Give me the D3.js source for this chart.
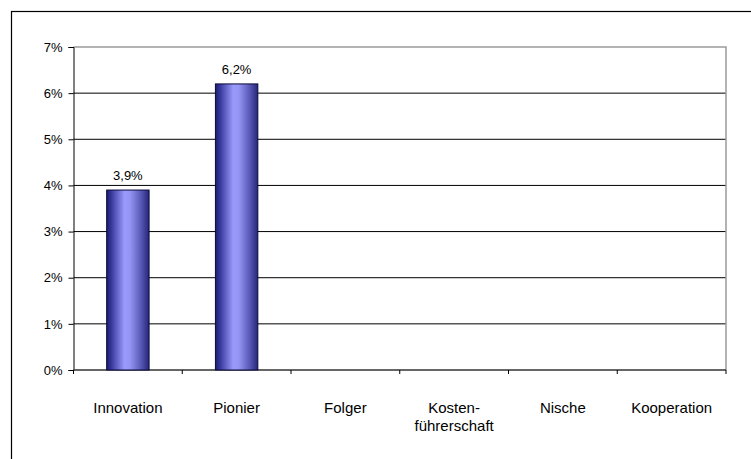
<!DOCTYPE html>
<html>
<head>
<meta charset="utf-8">
<script src="https://cdn.jsdelivr.net/npm/d3@7"></script>
<style>
  html, body { margin: 0; padding: 0; background: #fff; }
  svg { display: block; font-family: "Liberation Sans", Arial, sans-serif; }
</style>
</head>
<body>
<svg id="chart" width="751" height="459"></svg>
<script>
// Strategy categories (label lines) and their values in percent
const categories = ["Innovation", "Pionier", "Folger", "Kosten-|führerschaft", "Nische", "Kooperation"];
const values = [3.9, 6.2, null, null, null, null];
const yTicks = [0, 1, 2, 3, 4, 5, 6, 7];

const svg = d3.select("#chart");
const W = 751, H = 459;
const plot = { left: 73.5, right: 726, top: 47, bottom: 370 };

// Outer frame (extends beyond the right and bottom edge)
svg.append("rect")
  .attr("x", 11.5).attr("y", 11.5)
  .attr("width", W + 10).attr("height", H + 10)
  .attr("fill", "none").attr("stroke", "#000").attr("stroke-width", 1.2);

const x = d3.scaleBand()
  .domain(categories)
  .range([plot.left, plot.right])
  .paddingInner(0).paddingOuter(0);

const y = d3.scaleLinear().domain([0, 7]).range([plot.bottom, plot.top]);

// Bar gradient: dark edges, light violet-blue highlight left of centre
const defs = svg.append("defs");
const grad = defs.append("linearGradient")
  .attr("id", "barGrad").attr("x1", "0%").attr("x2", "100%").attr("y1", "0%").attr("y2", "0%");
[
  [0, "#1c1c70"], [0.12, "#3a3aa0"], [0.42, "#9a9afc"], [0.55, "#9595f5"],
  [0.8, "#5a5ab8"], [1, "#26267a"]
].forEach(([o, c]) => grad.append("stop").attr("offset", o).attr("stop-color", c));

// Horizontal gridlines
svg.append("g")
  .selectAll("line")
  .data(yTicks.filter(t => t > 0 && t < 7))
  .join("line")
  .attr("x1", plot.left).attr("x2", plot.right)
  .attr("y1", d => y(d)).attr("y2", d => y(d))
  .attr("stroke", "#000").attr("stroke-width", 1);

// Plot area border (top and right)
svg.append("path")
  .attr("d", `M${plot.left},${y(7)}H${plot.right}V${plot.bottom}`)
  .attr("fill", "none").attr("stroke", "#9a9a9a").attr("stroke-width", 1.5);

// Y axis
const yAxis = d3.axisLeft(y).tickValues(yTicks).tickFormat(d => d + "%").tickSize(5).tickPadding(6);
const gy = svg.append("g").attr("transform", `translate(${plot.left},0)`).call(yAxis);
gy.select(".domain").attr("stroke", "#000");
gy.selectAll(".tick line").attr("stroke", "#000");
gy.selectAll(".tick text").attr("font-size", 13).attr("fill", "#000")
  .attr("font-family", "Liberation Sans, Arial, sans-serif");

// X axis with ticks on band boundaries
const gx = svg.append("g").attr("transform", `translate(0,${plot.bottom})`);
gx.append("line").attr("x1", plot.left).attr("x2", plot.right)
  .attr("stroke", "#333").attr("stroke-width", 1.5);
const boundaries = categories.map(c => x(c)).concat([x(categories[categories.length - 1]) + x.bandwidth()]);
gx.selectAll("line.tk").data(boundaries).join("line").attr("class", "tk")
  .attr("x1", d => d).attr("x2", d => d).attr("y1", 0).attr("y2", 4)
  .attr("stroke", "#000");

// Category labels
const labels = svg.append("g").selectAll("text").data(categories).join("text")
  .attr("x", d => x(d) + x.bandwidth() / 2)
  .attr("y", 413)
  .attr("text-anchor", "middle")
  .attr("font-size", 15).attr("fill", "#000");
labels.each(function(d) {
  const lines = d.split("|");
  d3.select(this).selectAll("tspan").data(lines).join("tspan")
    .attr("x", x(d) + x.bandwidth() / 2)
    .attr("dy", (l, i) => i === 0 ? 0 : 18)
    .text(l => l);
});

// Bars
const barW = x.bandwidth() * 0.39;
const barData = categories.map((c, i) => ({ c, v: values[i] })).filter(d => d.v != null);
svg.append("g").selectAll("rect").data(barData).join("rect")
  .attr("x", d => x(d.c) + (x.bandwidth() - barW) / 2)
  .attr("y", d => y(d.v))
  .attr("width", barW)
  .attr("height", d => y(0) - y(d.v))
  .attr("fill", "url(#barGrad)")
  .attr("stroke", "#0a0a3a").attr("stroke-width", 1);

// Value labels
svg.append("g").selectAll("text").data(barData).join("text")
  .attr("x", d => x(d.c) + x.bandwidth() / 2)
  .attr("y", d => y(d.v) - 10)
  .attr("text-anchor", "middle")
  .attr("font-size", 13).attr("fill", "#000")
  .text(d => d.v.toFixed(1).replace(".", ",") + "%");
</script>
</body>
</html>
